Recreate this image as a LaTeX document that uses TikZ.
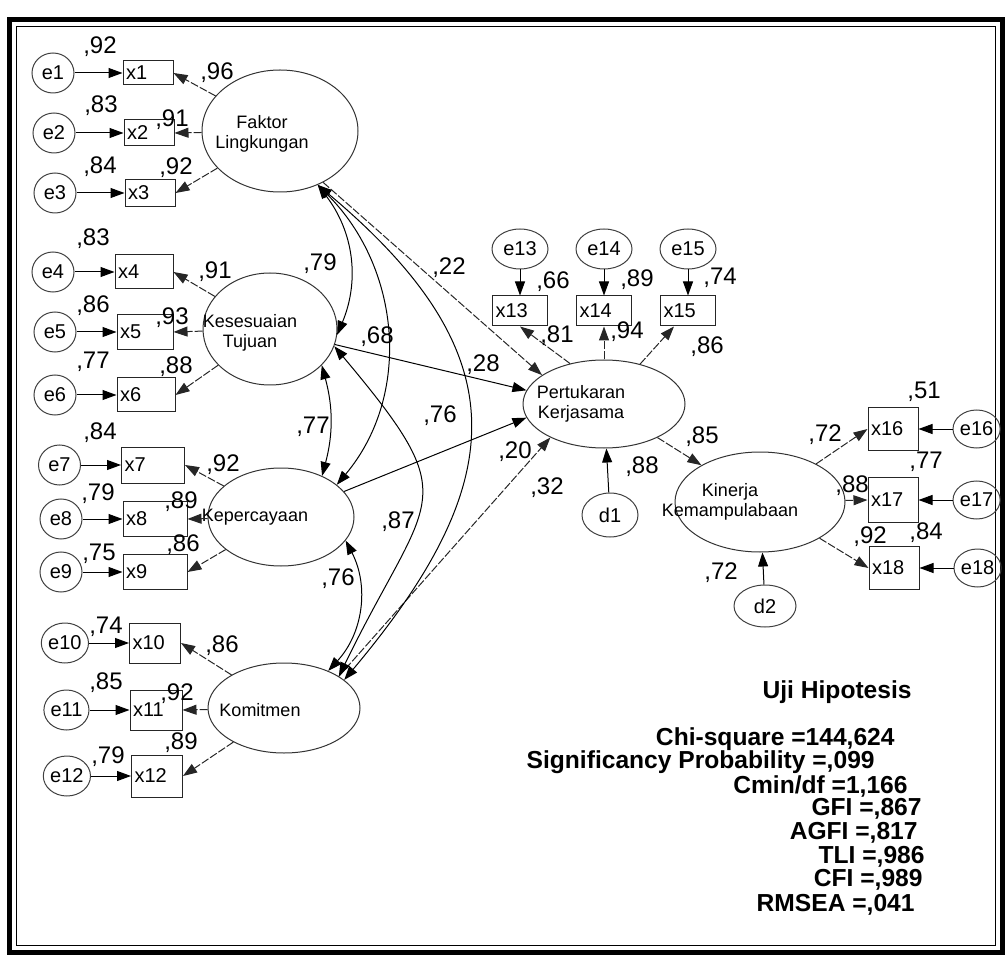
\documentclass[tikz,border=0pt]{standalone}
\usepackage{fontspec}
\setmainfont{Liberation Sans}
\usetikzlibrary{positioning,arrows.meta,shapes.geometric}

\newcommand{\lblfont}{\fontsize{12}{13}\selectfont}
\newcommand{\latfont}{\fontsize{9}{10}\selectfont}
\newcommand{\obsfont}{\fontsize{10}{11}\selectfont}
\newcommand{\statfont}{\fontsize{12.3}{13}\selectfont\bfseries}

\begin{document}
\begin{tikzpicture}[
    x=0.5pt, y=-0.5pt,
    node distance=20pt,
    latent/.style={ellipse, draw=black!80, line width=0.5pt, inner sep=0pt},
    ltxt/.style={font=\latfont, align=center, inner sep=0pt},
    obs/.style 2 args={rectangle, draw=black!85, line width=0.5pt, text width=#1, minimum height=#2, inner xsep=1.5pt, inner ysep=0pt, align=left, font=\obsfont},
    err/.style={ellipse, draw=black!75, line width=0.5pt, minimum width=21pt, minimum height=20pt, inner sep=0pt, font=\obsfont},
    val/.style={font=\lblfont, inner sep=0pt},
    stat/.style={font=\statfont, anchor=east, inner sep=0pt},
    arr/.style={line width=0.5pt, -{Triangle[length=7pt,width=5pt]}},
    loadarr/.style={arr, draw=black!85, dash pattern=on 4pt off 1pt},
    cov/.style={line width=0.5pt, {Triangle[length=7pt,width=5pt]}-{Triangle[length=7pt,width=5pt]}}
]
\useasboundingbox (0,0) rectangle (1006,962);
\draw[line width=2.5pt] (9,20) rectangle (1002,952);
\draw[line width=0.5pt] (16,27) rectangle (995,945);

% latent variables
\node[latent, minimum width=78pt, minimum height=61pt, label={[ltxt, xshift=-9pt, yshift=-1.5pt]center:Faktor\\Lingkungan}] (fl) at (280,131) {};
\node[latent, minimum width=67pt, minimum height=56pt, label={[ltxt, xshift=-10pt, yshift=-2pt]center:Kesesuaian\\Tujuan}] (kt) at (270,329) {};
\node[latent, minimum width=73pt, minimum height=49pt, label={[ltxt, xshift=-13pt]center:Kepercayaan}] (kp) at (281,517) {};
\node[latent, minimum width=76pt, minimum height=45pt, label={[ltxt, xshift=-12pt, yshift=-1pt]center:Komitmen}] (km) at (284,708) {};
\node[latent, minimum width=81pt, minimum height=44pt, label={[ltxt, xshift=-11.5pt]center:Pertukaran\\Kerjasama}] (pk) at (604,404) {};
\node[latent, minimum width=85pt, minimum height=50pt, label={[ltxt, xshift=-15pt]center:Kinerja\\Kemampulabaan}] (kk) at (760,502) {};

% indicators
\node[obs={22pt}{12pt}] (x1) at (148,73) {x1};
\node[obs={22pt}{13pt}] (x2) at (149,133) {x2};
\node[obs={22pt}{13.5pt}] (x3) at (150,193) {x3};
\node[obs={26pt}{17pt}] (x4) at (144,272) {x4};
\node[obs={25pt}{17.5pt}] (x5) at (145,332) {x5};
\node[obs={26pt}{17pt}] (x6) at (146,395) {x6};
\node[obs={28.5pt}{18pt}] (x7) at (153,465) {x7};
\node[obs={29pt}{17.5pt}] (x8) at (155,519) {x8};
\node[obs={29pt}{17.5pt}] (x9) at (155,572) {x9};
\node[obs={22.5pt}{20pt}] (x10) at (155,643) {x10};
\node[obs={23pt}{20pt}] (x11) at (156,710) {x11};
\node[obs={22.5pt}{21pt}] (x12) at (157,776) {x12};
\node[obs={24.5pt}{15pt}, above=16.5pt of pk] (x14) {x14};
\node[obs={24.5pt}{15pt}, left=14pt of x14] (x13) {x13};
\node[obs={24.5pt}{15pt}, right=14pt of x14] (x15) {x15};
\node[obs={22pt}{21pt}] (x16) at (893,429) {x16};
\node[obs={22pt}{22.5pt}] (x17) at (893,500) {x17};
\node[obs={22pt}{21.5pt}] (x18) at (894,568) {x18};

% error terms
\node[err, left=24pt of x1] (e1) {e1};
\node[err, left=24pt of x2] (e2) {e2};
\node[err, left=24pt of x3] (e3) {e3};
\node[err, left=of x4] (e4) {e4};
\node[err, left=of x5] (e5) {e5};
\node[err, left=of x6] (e6) {e6};
\node[err, left=of x7] (e7) {e7};
\node[err, left=of x8] (e8) {e8};
\node[err, left=of x9] (e9) {e9};
\node[err, left=of x10] (e10) {e10};
\node[err, left=of x11] (e11) {e11};
\node[err, left=of x12] (e12) {e12};
\node[err, minimum width=28pt, above=13pt of x13] (e13) {e13};
\node[err, minimum width=28pt, above=13pt of x14] (e14) {e14};
\node[err, minimum width=28pt, above=13pt of x15] (e15) {e15};
\node[err, minimum height=19pt, right=17pt of x16] (e16) {e16};
\node[err, minimum height=19pt, right=17pt of x17] (e17) {e17};
\node[err, minimum height=19pt, right=17pt of x18] (e18) {e18};
\node[err, minimum width=28pt, minimum height=22pt, below=22pt of pk, xshift=3pt] (d1) {d1};
\node[err, minimum width=31pt, minimum height=21pt, below=16pt of kk, xshift=2.5pt] (d2) {d2};

% error arrows
\draw[arr] (e1) -- (x1);
\draw[arr] (e2) -- (x2);
\draw[arr] (e3) -- (x3);
\draw[arr] (e4) -- (x4);
\draw[arr] (e5) -- (x5);
\draw[arr] (e6) -- (x6);
\draw[arr] (e7) -- (x7);
\draw[arr] (e8) -- (x8);
\draw[arr] (e9) -- (x9);
\draw[arr] (e10) -- (x10);
\draw[arr] (e11) -- (x11);
\draw[arr] (e12) -- (x12);
\draw[arr] (e13) -- (x13);
\draw[arr] (e14) -- (x14);
\draw[arr] (e15) -- (x15);
\draw[arr] (e16) -- (x16);
\draw[arr] (e17) -- (x17);
\draw[arr] (e18) -- (x18);
\draw[arr] (d1) -- (pk);
\draw[arr] (d2) -- (kk);

% loadings
\draw[loadarr] (fl) -- (x1.east);
\draw[loadarr] (fl) -- (x2.east);
\draw[loadarr] (fl) -- (x3.east);
\draw[loadarr] (kt) -- (x4.east);
\draw[loadarr] (kt) -- (x5.east);
\draw[loadarr] (kt) -- (x6.east);
\draw[loadarr] (kp) -- (x7.east);
\draw[loadarr] (kp) -- (x8.east);
\draw[loadarr] (kp) -- (x9.east);
\draw[loadarr] (km) -- (x10.east);
\draw[loadarr] (km) -- (x11.east);
\draw[loadarr] (km) -- (x12.east);
\draw[loadarr] (pk.130) -- (x13.south);
\draw[loadarr] (pk) -- (x14);
\draw[loadarr] (pk) -- (x15);
\draw[loadarr] (kk) -- (x16.west);
\draw[loadarr] (kk) -- (x17.west);
\draw[loadarr] (kk) -- (x18.west);

% structural paths
\draw[loadarr] (fl.-50) -- (pk.155);
\draw[arr] (kt) -- (pk.170);
\draw[arr] (kp) -- (pk.190);
\draw[loadarr] (km.30) -- (pk.212);
\draw[loadarr] (pk) -- (kk);

% correlations
\draw[cov] (fl.-55) to[bend left=30] (kt.-5);
\draw[cov] (fl.-55) to[out=-45, in=50] (kp.30);
\draw[cov] (fl.-55) to[out=-40, in=50, looseness=1.35] (km.25);
\draw[cov] (kt.-35) to[bend left=15] (kp.45);
\draw[cov] (kt.-15) to[out=-50, in=64, looseness=1.6] (km.30);
\draw[cov] (kp.-20) to[bend left=35] (km.40);

% estimates
\node[val] (s1) at (100,47) {,92};
\node[val] (l1) at (217,73) {,96};
\node[val] (s2) at (101,106) {,83};
\node[val] (l2) at (172,120) {,91};
\node[val] (s3) at (100,167) {,84};
\node[val] (l3) at (176,168) {,92};
\node[val] (s4) at (93,239) {,83};
\node[val] (l4) at (215,272) {,91};
\node[val] (s5) at (93,306) {,86};
\node[val] (l5) at (172,318) {,93};
\node[val] (s6) at (93,362) {,77};
\node[val] (l6) at (176,367) {,88};
\node[val] (s7) at (100,433) {,84};
\node[val] (l7) at (223,465) {,92};
\node[val] (s8) at (98,494) {,79};
\node[val] (l8) at (181,502) {,89};
\node[val] (s9) at (99,554) {,75};
\node[val] (l9) at (183,545) {,86};
\node[val] (s10) at (106,627) {,74};
\node[val] (l10) at (222,646) {,86};
\node[val] (s11) at (106,683) {,85};
\node[val] (l11) at (177,694) {,92};
\node[val] (s12) at (108,757) {,79};
\node[val] (l12) at (181,743) {,89};
\node[val] (s13) at (553,282) {,66};
\node[val] (l13) at (557,336) {,81};
\node[val] (s14) at (637,280) {,89};
\node[val] (l14) at (627,332) {,94};
\node[val] (s15) at (720,278) {,74};
\node[val] (l15) at (707,347) {,86};
\node[val] (s16) at (924,392) {,51};
\node[val] (l16) at (825,435) {,72};
\node[val] (s17) at (926,462) {,77};
\node[val] (l17) at (852,486) {,88};
\node[val] (s18) at (926,533) {,84};
\node[val] (l18) at (870,537) {,92};
\node[val] (c1) at (320,264) {,79};
\node[val] (c2) at (377,337) {,68};
\node[val] (c3) at (313,427) {,77};
\node[val] (c4) at (440,416) {,76};
\node[val] (c5) at (398,522) {,87};
\node[val] (c6) at (338,579) {,76};
\node[val] (b1) at (449,268) {,22};
\node[val] (b2) at (483,365) {,28};
\node[val] (b3) at (515,452) {,20};
\node[val] (b4) at (547,488) {,32};
\node[val] (b5) at (702,437) {,85};
\node[val] (rpk) at (642,467) {,88};
\node[val] (rkk) at (721,573) {,72};

% fit indices
\node[stat] (st0) at (912,692) {Uji Hipotesis};
\node[stat] (st1) at (895,739) {Chi-square =144,624};
\node[stat] (st2) at (875,762) {Significancy Probability =,099};
\node[stat] (st3) at (908,786) {Cmin/df =1,166};
\node[stat] (st4) at (922,809) {GFI =,867};
\node[stat] (st5) at (918,833) {AGFI =,817};
\node[stat] (st6) at (925,857) {TLI =,986};
\node[stat] (st7) at (923,880) {CFI =,989};
\node[stat] (st8) at (915,905) {RMSEA =,041};
\end{tikzpicture}
\end{document}
